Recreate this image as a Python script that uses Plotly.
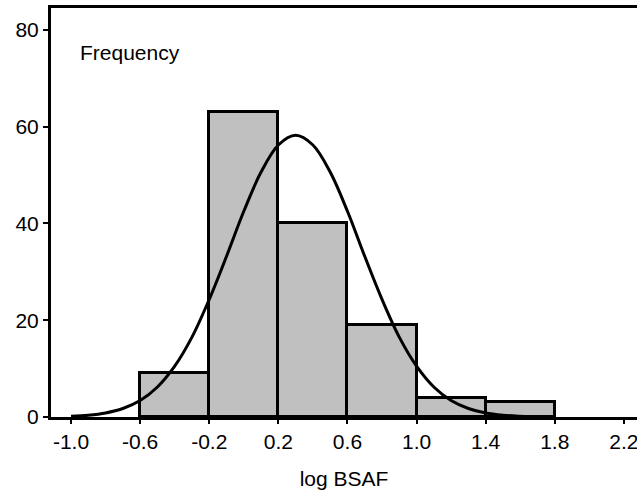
import plotly.graph_objects as go

# Histogram data (log BSAF bins, width 0.4)
bin_centers = [-0.4, 0.0, 0.4, 0.8, 1.2, 1.6]
bin_width = 0.4
frequency = [9, 63, 40, 19, 4, 3]

# Fitted normal curve
curve_x = [-1.0, -0.9, -0.8, -0.7, -0.6, -0.5, -0.4, -0.3, -0.2, -0.1, 0.0, 0.1, 0.2, 0.3,
           0.4, 0.5, 0.6, 0.7, 0.8, 0.9, 1.0, 1.1, 1.2, 1.3, 1.4, 1.5, 1.6, 1.65]
curve_y = [0.16, 0.38, 0.84, 1.76, 3.4, 6.2, 10.5, 16.5, 24.3, 33.2, 42.5, 50.6, 56.2, 58.2,
           56.2, 50.6, 42.5, 33.2, 24.3, 16.5, 10.5, 6.2, 3.4, 1.76, 0.84, 0.38, 0.16, 0.1]

x_ticks = [-1.0, -0.6, -0.2, 0.2, 0.6, 1.0, 1.4, 1.8, 2.2]
x_ticktext = ["-1.0", "-0.6", "-0.2", "0.2", "0.6", "1.0", "1.4", "1.8", "2.2"]
y_ticks = [0, 20, 40, 60, 80]

font_family = "Liberation Sans, Arial, sans-serif"

fig = go.Figure()
fig.add_trace(go.Bar(
    x=bin_centers, y=frequency, width=[bin_width] * len(bin_centers),
    marker=dict(color="#c0c0c0", line=dict(color="black", width=3)),
    showlegend=False, hoverinfo="skip",
))
fig.add_trace(go.Scatter(
    x=curve_x, y=curve_y, mode="lines",
    line=dict(color="black", width=3, shape="spline"),
    showlegend=False, hoverinfo="skip",
))

fig.add_annotation(x=-0.96, y=75.3, xref="x", yref="y", text="Frequency",
                   showarrow=False, xanchor="left", yanchor="middle",
                   font=dict(family=font_family, size=21, color="black"))

fig.update_layout(
    width=637, height=494,
    margin=dict(l=51, r=0, t=8, b=77),
    paper_bgcolor="white", plot_bgcolor="white",
    font=dict(family=font_family, size=21, color="black"),
    bargap=0,
)
fig.update_xaxes(
    range=[-1.116, 2.276], tickvals=x_ticks, ticktext=x_ticktext,
    showgrid=False, zeroline=False, showline=True, linecolor="black", linewidth=3,
    mirror=True, ticks="outside", ticklen=4, tickwidth=1.5, tickcolor="black",
    ticklabeloverflow="allow",
    title=dict(text="log BSAF", font=dict(size=21), standoff=20),
)
fig.update_yaxes(
    range=[0, 84.5], tickvals=y_ticks,
    showgrid=False, zeroline=False, showline=True, linecolor="black", linewidth=3,
    ticks="outside", ticklen=5, tickwidth=1.5, tickcolor="black",
)

fig.write_html("out.html")
